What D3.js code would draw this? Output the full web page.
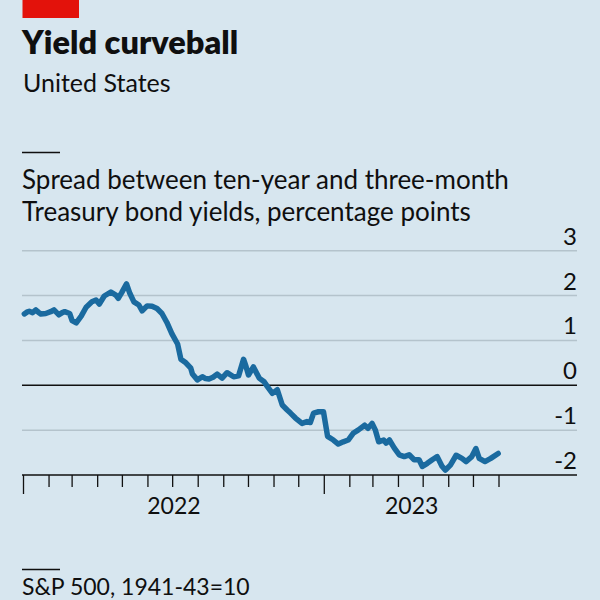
<!DOCTYPE html>
<html><head><meta charset="utf-8">
<script src="https://cdn.jsdelivr.net/npm/d3@7"></script>
<style>
html,body{margin:0;padding:0;background:#d7e6ef;}
svg{display:block;}
text{font-family:Lato,"Noto Sans",sans-serif;fill:#0f0f0f;}
</style></head>
<body>
<svg id="c" width="600" height="600"></svg>
<script>
const title = "Yield curveball";
const subtitle = "United States";
const chartTitle = ["Spread between ten-year and three-month", "Treasury bond yields, percentage points"];
const nextTitle = "S&P 500, 1941-43=10";
const yTicks = [3, 2, 1, 0, -1, -2];
const yearLabels = ["2022", "2023"];
const dates = ["2022-01-02","2022-01-05","2022-01-08","2022-01-12","2022-01-16","2022-01-19","2022-01-22","2022-01-28","2022-02-03","2022-02-07","2022-02-13","2022-02-17","2022-02-20","2022-02-26","2022-03-01","2022-03-06","2022-03-12","2022-03-18","2022-03-25","2022-03-30","2022-04-03","2022-04-09","2022-04-17","2022-04-23","2022-04-26","2022-04-30","2022-05-06","2022-05-10","2022-05-15","2022-05-21","2022-05-25","2022-05-31","2022-06-06","2022-06-12","2022-06-18","2022-06-24","2022-06-30","2022-07-07","2022-07-11","2022-07-17","2022-07-23","2022-07-25","2022-07-31","2022-08-06","2022-08-10","2022-08-14","2022-08-19","2022-08-24","2022-08-30","2022-09-05","2022-09-13","2022-09-19","2022-09-25","2022-09-28","2022-10-01","2022-10-07","2022-10-14","2022-10-20","2022-10-24","2022-10-30","2022-11-05","2022-11-11","2022-11-17","2022-11-21","2022-11-27","2022-12-05","2022-12-11","2022-12-15","2022-12-19","2022-12-25","2022-12-31","2023-01-05","2023-01-12","2023-01-18","2023-01-24","2023-01-30","2023-02-05","2023-02-11","2023-02-19","2023-02-23","2023-02-28","2023-03-04","2023-03-08","2023-03-14","2023-03-17","2023-03-21","2023-03-27","2023-04-02","2023-04-08","2023-04-14","2023-04-20","2023-04-26","2023-04-30","2023-05-06","2023-05-12","2023-05-18","2023-05-24","2023-05-28","2023-06-03","2023-06-10","2023-06-17","2023-06-22","2023-06-29","2023-07-04","2023-07-08","2023-07-15","2023-07-22","2023-07-31"];
const spread = [1.59,1.63,1.65,1.62,1.68,1.63,1.59,1.60,1.64,1.68,1.57,1.62,1.64,1.60,1.44,1.39,1.54,1.74,1.86,1.90,1.81,1.99,2.08,2.01,1.94,2.06,2.26,2.05,1.86,1.79,1.66,1.77,1.76,1.71,1.60,1.40,1.15,0.92,0.58,0.50,0.38,0.25,0.12,0.19,0.15,0.14,0.18,0.25,0.16,0.28,0.19,0.21,0.58,0.42,0.23,0.41,0.16,0.08,-0.03,-0.18,-0.10,-0.44,-0.55,-0.62,-0.73,-0.85,-0.81,-0.83,-0.62,-0.59,-0.59,-1.14,-1.22,-1.31,-1.26,-1.22,-1.07,-1.00,-0.89,-0.96,-0.85,-1.00,-1.26,-1.22,-1.29,-1.22,-1.40,-1.55,-1.59,-1.55,-1.66,-1.66,-1.81,-1.74,-1.66,-1.59,-1.81,-1.89,-1.78,-1.56,-1.63,-1.70,-1.59,-1.41,-1.63,-1.70,-1.63,-1.52];

const parse = d3.utcParse("%Y-%m-%d");
const data = dates.map((d, i) => ({date: parse(d), v: spread[i]}));

const svg = d3.select("#c");
svg.append("rect").attr("width", 600).attr("height", 600).attr("fill", "#d7e6ef");
svg.append("rect").attr("x", 22.5).attr("y", 0).attr("width", 56.5).attr("height", 18).attr("fill", "#e3120b");

svg.append("text").attr("x", 22).attr("y", 54).attr("font-size", 32.5).attr("font-weight", 800).text(title);
svg.append("text").attr("x", 23).attr("y", 92).attr("font-size", 25).text(subtitle);

svg.append("line").attr("x1", 22).attr("x2", 60).attr("y1", 152.5).attr("y2", 152.5).attr("stroke", "#0f0f0f").attr("stroke-width", 1.3);
chartTitle.forEach((t, i) => {
  svg.append("text").attr("x", 22).attr("y", 189 + i * 32).attr("font-size", 26).text(t);
});

const x = d3.scaleUtc().domain([parse("2022-01-01"), parse("2023-08-01")]).range([23.5, 499]);
const y = d3.scaleLinear().domain([-2, 3]).range([475, 250.7]);

// gridlines
const grid = svg.append("g");
yTicks.forEach(t => {
  grid.append("line").attr("x1", 22).attr("x2", 577).attr("y1", y(t)).attr("y2", y(t))
    .attr("stroke", (t === 0 || t === -2) ? "#111" : "#b4c3cc")
    .attr("stroke-width", 1.5);
  grid.append("text").attr("x", 577).attr("y", y(t) - 6).attr("text-anchor", "end")
    .attr("font-size", 24).text(t < 0 ? "-" + Math.abs(t) : String(t));
});

// x axis ticks
const months = d3.utcMonth.range(parse("2022-01-01"), parse("2023-08-02"));
const tk = svg.append("g");
months.forEach(m => {
  const isYear = m.getUTCMonth() === 0;
  tk.append("line").attr("x1", x(m)).attr("x2", x(m)).attr("y1", 475).attr("y2", isYear ? 494 : 487)
    .attr("stroke", "#111").attr("stroke-width", 1.3);
});
const yearStarts = [parse("2022-01-01"), parse("2023-01-01"), parse("2023-08-01")];
yearLabels.forEach((lab, i) => {
  tk.append("text").attr("x", (x(yearStarts[i]) + x(yearStarts[i + 1])) / 2).attr("y", 514)
    .attr("text-anchor", "middle").attr("font-size", 23).text(lab);
});

const line = d3.line().x(d => x(d.date)).y(d => y(d.v)).curve(d3.curveLinear);
svg.append("path").datum(data).attr("d", line).attr("fill", "none")
  .attr("stroke", "#1a6a9f").attr("stroke-width", 5.5).attr("stroke-linejoin", "round").attr("stroke-linecap", "round");

svg.append("line").attr("x1", 22).attr("x2", 60).attr("y1", 569.5).attr("y2", 569.5).attr("stroke", "#0f0f0f").attr("stroke-width", 1.3);
svg.append("text").attr("x", 22).attr("y", 595).attr("font-size", 23).text(nextTitle);
</script>
</body></html>
